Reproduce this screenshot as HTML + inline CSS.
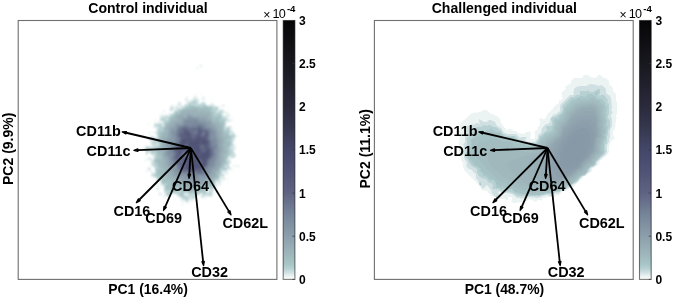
<!DOCTYPE html>
<html><head><meta charset="utf-8"><style>
html,body{margin:0;padding:0;background:#fff;width:675px;height:300px;overflow:hidden}
svg{display:block;will-change:transform}
text{font-family:'Liberation Sans',sans-serif;fill:#000}
</style></head><body>
<svg width="675" height="300" viewBox="0 0 675 300">
<defs><linearGradient id="cmap" x1="0" y1="1" x2="0" y2="0"><stop offset="0.0" stop-color="#ffffff"/><stop offset="0.01" stop-color="#eef5f5"/><stop offset="0.0267" stop-color="#d0e0e2"/><stop offset="0.04" stop-color="#b8d2d4"/><stop offset="0.0567" stop-color="#a8c6c8"/><stop offset="0.0833" stop-color="#a2bbbe"/><stop offset="0.1667" stop-color="#8c9eab"/><stop offset="0.25" stop-color="#768599"/><stop offset="0.3333" stop-color="#5f6383"/><stop offset="0.4167" stop-color="#505375"/><stop offset="0.5" stop-color="#45476a"/><stop offset="0.5833" stop-color="#36384f"/><stop offset="0.6667" stop-color="#2a2a3c"/><stop offset="0.8333" stop-color="#18181f"/><stop offset="1.0" stop-color="#060608"/></linearGradient>
<clipPath id="clipL"><rect x="19" y="21" width="257.5" height="257.5"/></clipPath>
<clipPath id="clipR"><rect x="375.3" y="21" width="257.5" height="257.5"/></clipPath>
<filter id="bl" x="-20%" y="-20%" width="140%" height="140%"><feGaussianBlur stdDeviation="0.85"/></filter>
</defs>
<g clip-path="url(#clipL)"><g filter="url(#bl)"><path fill="#e2eded" fill-rule="evenodd" d="M184 203 183 203 182 205 182 204zM166 200 166 201 167 201 167 200zM206 199h1v1h-1zM174 199h1v1h-1zM199 198h1v1h-1zM173 196h1v1h-1zM162 195 161 194 161 192 158 194 159 195zM216 191 216 193 220 192zM227 182 227 183 228 183 228 182zM232 171h1v1h-1zM239 165 238 166 239 166zM236 161h1v1h-1zM145 160h1v1h-1zM240 153h1v1h-1zM240 150h1v1h-1zM143 134h1v1h-1zM148 133h1v1h-1zM233 128h1v1h-1zM234 122h1v1h-1zM150 122 148 123 149 125 148 123zM155 120h1v1h-1zM165 109 163 112 164 112zM229 108 227 109 229 109zM157 107h1v1h-1zM208 100h1v1h-1zM212 98h1v1h-1zM170 96h1v1h-1zM224 104 219 107 217 107 215 105 213 105 212 104 213 101 210 105 207 105 206 104 206 102 204 102 203 101 205 98 204 96 202 99 203 102 199 104 198 103 199 102 199 99 196 97 196 95 195 95 192 100 190 100 189 102 187 98 188 97 186 97 185 101 186 101 187 103 185 104 183 107 181 106 182 105 181 104 181 102 179 102 174 108 172 104 170 107 170 111 172 110 174 112 173 113 169 113 167 116 166 114 165 114 166 115 165 116 161 114 159 122 154 124 154 127 152 128 156 128 157 129 155 132 151 132 150 133 152 132 154 133 155 132 157 136 156 137 154 137 153 136 149 137 148 138 149 140 151 141 150 142 151 146 150 147 146 146 145 148 144 147 143 147 143 148 144 148 146 151 146 155 147 155 149 152 151 154 151 157 150 158 147 158 147 159 148 160 149 159 150 160 151 164 149 165 151 165 152 166 147 169 148 170 146 171 149 170 151 172 151 176 154 178 153 179 155 178 157 180 157 182 156 183 157 186 156 188 158 190 160 189 160 188 157 189 156 188 157 186 161 185 164 188 164 192 165 194 163 197 164 198 163 200 166 196 170 197 170 195 171 194 176 194 178 197 182 199 180 202 181 201 185 201 188 204 190 199 191 201 193 202 192 200 193 199 196 199 196 196 200 194 202 195 201 196 203 199 205 197 207 197 208 196 209 197 212 197 213 196 213 194 212 193 214 191 214 189 216 188 219 184 221 184 223 180 228 179 230 177 226 179 224 176 226 174 228 174 229 172 228 173 227 172 228 170 231 169 231 168 234 166 236 167 236 165 234 165 233 167 230 168 229 167 229 164 231 163 231 159 236 157 236 155 234 152 234 150 235 149 236 151 236 147 235 146 235 144 233 143 235 140 234 139 236 137 239 137 239 136 237 137 234 134 234 132 231 130 230 125 227 127 225 126 226 125 226 123 228 121 230 122 232 121 230 120 232 119 229 120 227 118 228 116 231 117 228 112 225 112 223 109 221 109 220 110 218 109 220 107 224 106 225 105zM185 194 186 193 187 194 186 195zM207 191 208 190 209 191 208 192zM216 183 217 182 218 183 217 184zM220 182 221 181 222 182 221 183zM159 180 161 184 160 185 158 185 157 184zM220 179 221 178 222 179 221 180zM223 173 224 172 225 173 224 174zM153 166 155 170 155 172 154 173 151 171 151 168zM228 159 229 158 230 159 229 160zM229 157 230 156 231 158 230 159zM152 155 154 158 153 160 150 158zM155 145 156 144 157 145 156 146zM232 142 233 141 234 142 233 143zM162 125 163 124 164 125 163 126zM160 122 161 121 163 122 162 123zM223 115 224 113 227 113 228 114 224 116zM173 110 174 109 175 110 174 111zM179 108 180 107 181 108 180 109zM214 106 215 105 216 106 215 107zM178 106 179 105 180 106 179 107zM201 94h1v1h-1zM196 93h1v1h-1zM197 67 196 68 197 69 198 68zM200 65 200 67 202 67 202 65z"/>
<path fill="#cadcde" fill-rule="evenodd" d="M182 204h1v1h-1zM181 201h1v1h-1zM174 199h1v1h-1zM160 193 159 195 160 195zM216 191 216 192 218 192zM156 187 157 189 160 189 159 188 157 189zM158 185h1v1h-1zM156 184h1v1h-1zM224 178 223 178 223 179zM227 173h1v1h-1zM151 171h1v1h-1zM146 171h1v1h-1zM148 168 148 169 150 169 150 168zM238 166h1v1h-1zM235 165 234 166 235 166zM145 160h1v1h-1zM143 148h1v1h-1zM143 135h1v1h-1zM148 133h1v1h-1zM151 132 151 133 152 132 154 133 153 132zM148 124h1v1h-1zM155 120h1v1h-1zM231 119h1v1h-1zM225 112 226 113 228 113zM163 111h1v1h-1zM223 105h1v1h-1zM212 103h1v1h-1zM196 98 194 98 195 100 194 101 192 101 191 100 191 102 190 103 186 99 185 100 187 100 188 101 188 104 187 105 185 104 183 108 180 104 181 103 179 102 180 106 182 108 181 109 178 108 177 107 177 105 177 107 176 108 178 109 174 111 172 109 173 108 172 106 170 109 170 111 173 110 175 112 172 114 170 114 170 116 169 117 166 115 163 117 161 115 162 117 160 118 161 121 163 121 164 122 162 124 160 123 159 124 156 124 155 123 154 124 155 126 154 127 157 127 158 128 157 129 158 131 156 132 156 134 158 137 156 140 154 140 153 139 155 138 155 137 153 137 152 136 149 138 149 140 150 139 152 141 151 142 153 146 152 148 146 146 146 155 147 155 147 153 149 151 151 154 153 154 154 155 153 156 154 157 154 159 153 160 150 158 148 158 148 159 151 159 152 161 154 162 152 163 152 165 153 165 155 168 155 173 154 174 152 174 151 176 156 177 157 178 157 181 158 181 159 179 161 180 161 184 160 185 163 185 164 186 164 191 166 193 166 195 165 196 166 195 169 197 171 194 175 193 188 203 187 202 189 200 189 198 190 197 191 198 191 200 193 202 192 200 194 198 196 198 196 196 197 195 202 193 203 195 201 196 203 198 204 196 212 196 213 189 215 188 215 182 216 181 218 181 219 183 217 184 219 183 221 184 219 183 220 182 219 179 221 176 224 176 224 174 222 174 221 173 223 171 226 171 228 169 231 169 228 165 229 163 231 163 230 162 230 160 229 161 227 160 229 158 228 157 229 156 230 156 231 158 235 157 235 154 233 152 233 150 234 149 232 147 232 146 234 145 232 142 233 141 234 142 234 138 236 137 236 136 234 133 231 131 230 129 231 127 229 126 228 127 226 127 225 126 226 125 226 123 229 120 231 121 226 118 227 116 229 115 224 117 222 115 223 110 219 111 217 109 219 108 219 107 217 107 215 105 208 106 204 103 205 102 204 103 203 102 201 104 198 104 197 103 198 102 198 100 197 102 196 101zM205 194 206 193 207 195 206 196zM184 194 185 193 188 193 189 194 187 196zM208 193 209 192 210 193 209 194zM178 191 179 190 181 191 180 192zM206 191 206 189 207 188 211 190 208 192zM225 166 226 165 227 167 226 168zM152 148 153 147 154 148 153 149zM155 145 156 144 157 145 156 146zM157 144 158 143 160 144 159 145zM230 134 231 132 233 133 231 135zM157 127 158 126 159 127 158 128zM162 125 164 124 165 126 164 127zM225 121 226 120 227 122 226 123zM166 119 167 118 168 119 167 120zM163 118 164 117 165 118 164 119zM216 112 217 111 219 112 218 113zM214 106 215 105 216 106 215 107zM196 105 197 104 198 105 197 106zM204 97 203 98 203 100 204 99zM187 97h1v1h-1zM197 68h1v1h-1zM201 65 200 66 201 67 202 66z"/>
<path fill="#b5d0d2" fill-rule="evenodd" d="M182 204h1v1h-1zM201 196h1v1h-1zM188 195h1v1h-1zM160 194h1v1h-1zM216 192h1v1h-1zM157 189h1v1h-1zM156 187h1v1h-1zM220 184h1v1h-1zM148 169h1v1h-1zM231 168h1v1h-1zM238 166h1v1h-1zM145 160h1v1h-1zM148 159 151 159 150 158zM232 157h1v1h-1zM154 138 153 137 152 139 150 138 149 139 152 140 152 139zM152 132 151 132 151 133zM231 127h1v1h-1zM154 125h1v1h-1zM228 120h1v1h-1zM231 119h1v1h-1zM227 117h1v1h-1zM225 112h1v1h-1zM163 111h1v1h-1zM170 109 170 111 172 110 172 109zM172 107h1v1h-1zM212 103h1v1h-1zM179 102 180 103 180 102zM198 100h1v1h-1zM196 99 190 103 189 103 188 101 189 103 188 105 186 105 184 108 181 106 181 107 183 108 181 110 178 108 178 110 177 111 174 111 175 113 174 114 172 114 170 117 166 116 164 119 163 117 162 117 163 118 162 119 160 119 161 121 164 121 165 122 163 123 165 126 164 127 162 126 161 124 157 124 156 125 156 127 157 127 158 125 159 126 159 128 157 129 157 130 159 131 157 133 159 137 157 139 157 141 156 142 154 142 153 144 152 144 151 142 152 144 157 144 158 142 160 145 159 146 155 146 154 148 153 147 151 148 146 146 146 154 147 155 147 153 150 150 151 151 151 154 153 154 154 153 156 154 156 156 155 157 154 156 155 157 155 159 153 161 155 162 152 164 152 165 154 165 156 168 155 170 156 172 154 175 153 174 152 174 152 175 156 177 158 180 160 179 162 183 161 184 164 184 165 185 164 189 166 192 166 194 168 196 169 196 171 193 177 193 178 195 181 196 182 198 186 199 187 200 186 201 189 199 183 194 186 192 189 193 190 194 190 196 192 193 195 195 192 199 194 197 195 198 196 197 195 196 196 195 198 195 202 192 204 195 203 196 205 195 206 196 205 195 206 193 205 190 207 188 210 188 212 190 209 192 211 193 210 194 208 194 208 195 212 195 211 193 212 192 211 191 214 187 213 186 215 184 215 181 216 180 219 181 218 180 220 178 219 176 220 175 222 175 223 176 224 175 222 175 221 174 221 172 223 170 226 170 229 166 228 164 230 163 227 161 228 157 230 156 232 152 234 153 235 157 235 155 233 151 230 149 231 148 233 149 233 148 231 148 230 147 232 145 231 142 233 140 234 141 231 139 235 137 235 136 233 133 229 130 229 127 227 128 225 128 224 127 226 124 225 122 226 119 225 119 221 115 223 110 220 111 219 113 216 113 215 112 218 110 217 109 219 107 217 107 216 106 215 108 213 106 210 106 209 107 208 106 206 106 203 102 201 104 198 104 197 103 198 102 196 101zM196 192 198 191 199 193 198 194zM167 192 168 191 169 192 168 193zM168 191 169 190 170 191 169 192zM177 190 178 189 180 189 181 190 181 192 180 193zM183 187 184 186 185 187 184 188zM221 170 222 169 223 170 222 171zM224 166 226 165 228 167 227 168 225 168zM150 150 151 149 152 150 151 151zM229 148 230 147 231 148 230 149zM152 148 153 147 154 148 153 149zM229 133 230 132 232 132 233 134 231 136zM224 129 226 128 227 130 225 131zM162 127 163 126 164 127 163 128zM220 121 221 120 222 121 221 122zM169 118 168 120 165 120 164 119 168 117zM177 111 178 110 179 111 178 112zM213 108 214 107 215 108 214 109zM201 106 202 105 203 106 202 107zM197 103 198 105 196 106 195 105zM193 104 194 103 195 104 194 105zM191 104 192 103 193 104 192 105z"/>
<path fill="#a8c6c8" fill-rule="evenodd" d="M185 198 188 200 188 199zM211 194h1v1h-1zM222 175h1v1h-1zM228 166h1v1h-1zM155 166h1v1h-1zM153 164h1v1h-1zM234 154h1v1h-1zM211 106 210 107 208 107 204 105 202 108 201 107 197 107 196 106 190 105 184 109 179 110 178 112 175 112 173 117 172 115 169 118 170 119 167 123 164 123 164 124 166 125 163 128 163 131 162 132 161 131 159 131 159 137 158 138 158 140 160 145 157 148 157 150 155 152 151 153 151 154 155 152 157 154 156 158 154 161 157 163 157 165 159 168 156 170 157 172 156 173 156 176 158 177 158 179 161 178 162 179 161 181 162 183 166 185 165 188 167 189 166 190 166 192 167 193 167 195 169 196 171 193 177 192 177 191 175 190 176 188 181 190 181 192 179 194 180 196 184 196 182 193 183 192 188 192 190 195 192 192 195 194 199 194 200 192 202 191 204 194 206 192 205 191 205 189 207 187 208 188 210 187 212 188 213 187 213 185 215 183 215 180 216 179 218 179 220 177 219 175 221 172 221 170 222 169 223 170 224 169 226 170 226 168 224 167 224 165 226 164 227 162 226 160 228 159 228 156 229 154 231 153 229 152 229 147 232 145 231 140 230 139 232 138 232 136 230 136 229 135 229 128 227 128 227 130 226 131 224 130 224 124 225 123 224 122 225 120 224 119 222 120 221 119 222 116 220 115 220 113 219 114 214 113 211 110 212 109 212 107zM193 192 195 191 196 193 195 194zM196 191 197 190 199 193 198 194zM170 190 171 191 168 194 166 192 168 190zM195 188 196 187 197 188 196 189zM183 187 184 186 186 187 185 188zM165 183 166 182 168 184 166 185zM163 178 164 177 165 178 164 179zM220 169 221 168 222 169 221 170zM156 158 157 157 158 158 157 159zM220 120 221 119 222 121 221 122zM213 115 214 114 217 114 218 115 217 116 214 116z"/>
<path fill="#a5c0c2" fill-rule="evenodd" d="M188 199h1v1h-1zM176 192h1v1h-1zM151 153h1v1h-1zM223 120h1v1h-1zM211 107 209 108 206 106 204 106 201 108 200 107 190 106 190 108 189 109 188 107 187 107 185 109 181 110 178 113 176 112 175 115 173 117 171 116 171 118 168 123 164 123 166 126 163 129 163 131 162 132 160 131 159 132 160 135 158 139 160 141 160 148 157 150 157 157 159 158 158 159 156 159 155 161 158 163 158 166 160 167 161 169 160 170 159 169 156 170 158 172 157 173 157 175 159 174 161 176 158 179 160 177 162 179 163 184 166 182 168 183 166 187 167 188 167 190 169 189 171 190 170 193 174 192 174 189 177 187 179 187 182 191 180 194 181 196 183 196 182 194 182 192 183 191 189 192 190 194 195 190 195 187 196 186 198 188 197 190 199 191 199 193 200 193 201 191 203 191 204 193 205 192 204 190 208 186 212 187 212 185 214 184 214 181 216 179 219 178 217 175 220 173 220 169 222 167 226 169 223 167 223 165 226 163 226 161 225 160 226 158 225 157 227 156 227 154 229 150 228 147 230 146 230 143 231 142 230 139 232 137 228 135 227 133 228 132 228 130 228 132 227 133 223 131 223 129 224 128 224 123 219 121 220 118 222 117 220 117 219 116 220 114 219 114 217 117 214 117 212 114 213 113 215 114 215 113 212 113 210 110 211 109zM199 188 200 187 202 188 201 189zM185 185 186 187 184 189 183 187zM169 187 169 185 170 184 172 186 170 188zM167 181 168 180 169 181 168 182zM162 177 164 176 166 179 165 180 163 179zM160 155 161 156 161 158 160 159 158 157zM226 140 227 139 229 139 230 140 229 141 227 141zM223 135 224 134 225 135 224 136z"/>
<path fill="#a0b9bc" fill-rule="evenodd" d="M181 193 181 195 182 196 182 193zM204 192h1v1h-1zM198 189 198 190 201 190 200 189zM167 185 167 187 168 189 169 189 168 187 169 185zM165 123h1v1h-1zM218 117 219 118 219 117zM210 108 204 107 204 108 202 109 198 107 197 108 195 107 191 107 189 109 183 109 180 112 180 114 179 115 178 115 176 112 175 116 173 118 171 118 170 119 170 121 163 129 166 131 165 132 163 132 159 138 161 143 160 145 161 149 157 151 159 153 157 156 161 155 162 157 160 160 159 159 158 160 156 159 155 161 158 163 159 167 161 167 162 168 161 170 157 170 159 170 160 171 162 170 163 171 161 173 157 173 157 174 161 174 166 177 166 180 165 181 163 179 162 181 164 183 165 183 168 179 172 181 171 182 171 184 172 185 172 188 171 189 172 191 170 193 174 191 174 189 178 186 182 190 182 191 184 191 185 190 188 192 192 192 194 190 194 187 196 185 197 186 198 185 199 187 201 187 203 189 205 189 204 187 205 186 206 187 207 186 205 185 207 180 208 181 208 184 210 184 211 186 212 186 211 185 214 183 214 179 219 177 217 176 217 174 219 173 218 172 220 170 220 167 222 166 222 164 223 163 225 163 225 156 227 155 227 152 229 149 227 147 230 145 229 144 230 142 227 142 226 141 226 139 230 137 229 137 227 134 224 136 223 135 225 132 224 133 223 132 223 127 224 125 222 122 221 123 219 120 216 118 215 118 215 120 216 121 215 122 213 121 212 119 212 113 209 110zM184 185 186 186 186 188 185 189 183 189 182 188zM164 174 165 173 166 174 165 175zM223 155 224 154 225 155 224 156zM160 154 161 153 162 154 161 155zM225 149 226 148 227 150 226 151zM224 145 225 144 226 146 225 147zM205 110 206 109 208 110 207 111zM198 109 199 108 201 109 200 110z"/>
<path fill="#9bb1b8" fill-rule="evenodd" d="M226 145h1v1h-1zM196 109 194 109 193 110 188 110 187 111 183 110 182 111 183 112 181 113 180 115 176 115 173 120 167 125 165 129 168 131 164 133 163 136 161 138 161 144 162 145 161 147 162 148 162 151 161 152 162 153 163 167 167 171 167 173 170 179 174 181 175 183 176 182 177 183 177 186 179 186 181 188 182 188 181 187 183 185 185 185 187 188 187 191 193 190 194 189 194 185 195 184 196 185 199 185 203 188 205 185 204 183 206 180 208 181 208 183 214 183 213 182 213 179 214 178 217 178 216 172 219 170 219 168 222 164 224 163 223 161 225 158 222 154 223 153 226 154 227 152 224 150 225 147 223 145 225 141 225 138 223 136 223 130 221 128 221 126 217 122 214 123 212 121 212 119 210 116 211 115 209 112 204 112 201 110 201 111 198 113 197 112 198 110zM180 182 181 181 182 182 181 183zM209 180 210 179 212 180 211 181zM162 159 163 158 164 160 163 161zM219 126 220 125 221 126 220 127zM174 120 175 118 177 118 178 119 176 121zM208 116 209 115 210 116 209 117zM184 116 185 115 186 116 185 117zM195 115 196 114 197 115 196 116z"/>
<path fill="#94a9b2" fill-rule="evenodd" d="M209 181h1v1h-1zM187 113 185 114 187 116 186 117 184 117 182 114 181 114 180 116 177 117 178 118 178 120 177 121 175 121 173 124 168 128 169 130 168 132 168 136 165 138 164 140 164 152 163 153 163 155 165 158 166 164 169 168 169 171 171 174 171 176 175 178 179 182 180 181 182 181 183 182 181 184 185 184 187 187 190 187 191 186 193 187 195 183 199 185 204 185 204 183 206 179 209 179 215 176 215 172 218 170 221 166 221 160 220 158 221 157 222 158 222 155 221 154 223 151 223 147 222 146 223 139 220 136 220 132 218 130 216 125 212 122 212 120 211 119 209 120 208 119 208 117 206 115 204 116 202 116 201 115 199 116 197 113 195 113 193 114 192 116 189 113 188 114zM194 114 196 113 197 114 197 116 195 117 194 116z"/>
<path fill="#8ea1ad" fill-rule="evenodd" d="M189 114 187 115 187 117 186 118 184 118 183 116 182 122 181 123 178 123 177 122 178 121 175 125 170 129 170 131 169 132 170 136 167 139 167 141 166 142 165 155 168 159 168 164 171 170 173 172 173 174 177 178 179 179 180 178 182 181 186 183 190 182 193 184 195 183 200 184 205 181 207 178 209 178 209 176 213 173 213 170 216 168 219 164 219 162 218 161 220 158 220 151 221 150 219 145 221 141 218 137 217 130 214 126 211 124 212 123 210 121 206 120 204 118 200 118 198 116 196 117 191 116z"/>
<path fill="#889aa8" fill-rule="evenodd" d="M190 116 187 118 185 118 183 120 183 123 180 125 179 124 177 124 175 129 171 129 171 135 172 137 168 141 168 145 169 147 167 149 166 155 169 157 170 165 173 168 173 170 177 176 179 177 183 176 185 178 184 180 191 180 193 182 196 182 197 181 198 183 199 182 199 180 201 178 202 179 205 179 211 172 211 170 215 167 216 162 218 159 218 154 219 153 219 147 218 146 218 142 219 141 216 136 216 131 210 126 210 123 209 122 206 122 204 120 200 121 198 118 195 118z"/>
<path fill="#8292a3" fill-rule="evenodd" d="M190 117 187 120 184 120 184 123 182 125 178 125 177 126 177 129 175 132 172 130 172 133 175 139 173 142 170 142 171 146 169 148 167 152 167 154 170 156 170 159 172 162 172 165 174 165 176 167 175 170 179 173 179 175 180 176 185 175 187 178 189 178 190 177 192 178 194 181 197 181 198 177 200 175 205 177 210 171 210 169 214 166 215 161 217 157 218 145 217 144 217 139 215 136 215 132 211 128 208 127 206 125 205 122 199 122 196 118 194 118 193 119z"/>
<path fill="#7c8c9e" fill-rule="evenodd" d="M190 119 187 121 185 121 185 124 182 126 178 126 177 131 175 134 175 136 176 137 175 143 171 147 168 153 169 154 171 153 173 154 171 157 171 159 173 161 173 163 177 166 177 170 180 172 180 174 187 174 189 176 193 177 194 179 196 179 198 175 206 175 209 167 210 166 213 166 214 161 215 160 215 157 216 156 215 151 217 149 217 144 215 142 216 141 215 139 213 140 211 139 212 131 210 129 207 128 203 123 202 124 201 123 199 123 196 119 195 119 193 122 192 122zM187 124 188 123 190 124 189 125z"/>
<path fill="#768499" fill-rule="evenodd" d="M196 121 195 123 190 127 187 125 185 125 178 128 177 130 177 134 176 135 178 139 176 140 176 144 172 147 170 152 171 151 174 154 172 157 172 159 174 161 175 164 178 166 178 169 182 173 187 173 189 175 193 174 194 175 194 177 196 177 198 174 203 175 206 173 205 171 208 166 210 165 210 161 211 160 213 160 213 157 215 155 214 149 216 147 216 145 214 146 212 145 212 143 213 142 210 139 210 133 211 131 209 129 205 128 201 124 197 124 196 123zM183 155 184 153 186 154 184 156zM194 125 195 123 197 124 195 126z"/>
<path fill="#6f7b92" fill-rule="evenodd" d="M201 125 198 125 196 127 191 127 190 128 187 126 185 126 184 127 179 128 178 130 177 136 179 138 179 141 172 149 175 154 173 157 173 159 175 161 176 164 178 165 179 169 183 173 187 172 189 174 191 174 194 172 197 174 204 174 205 173 204 172 204 170 209 164 209 161 212 159 212 157 214 155 213 147 211 146 211 142 209 138 209 133 210 131 207 129 205 129zM185 152 187 154 185 156 183 156 182 155z"/>
<path fill="#69718c" fill-rule="evenodd" d="M199 125 197 128 188 128 187 127 183 127 179 130 178 136 180 138 180 141 173 149 173 150 175 152 175 156 174 158 176 160 176 163 179 165 179 167 183 172 187 171 189 173 191 173 196 171 198 173 203 173 203 171 202 170 207 166 208 161 213 155 212 148 210 147 210 141 208 138 209 136 209 132 207 130 203 129zM186 152 188 154 186 156 183 157 182 156 182 154 184 152zM192 150 193 152 190 154 189 153zM202 135 202 133 203 132 205 134 203 136zM196 130 197 131 197 133 195 134 194 132z"/>
<path fill="#626886" fill-rule="evenodd" d="M195 129 194 128 193 130 195 130zM199 127 197 129 198 133 196 135 192 134 190 131 186 128 183 128 182 129 183 130 183 132 179 134 179 136 181 138 180 139 180 142 174 150 176 152 175 158 177 160 177 163 180 165 183 171 187 170 189 172 192 172 197 170 199 173 202 173 201 170 207 165 208 160 212 155 211 149 209 147 210 143 209 142 209 140 207 138 208 137 208 132 207 131 204 131zM192 149 193 150 193 153 191 155 188 155 182 158 182 161 180 163 177 161 177 160 180 158 183 152 185 151 186 152 189 152 190 150zM200 146 202 145 203 147 201 148zM184 146 185 145 187 146 186 147zM204 131 205 132 205 135 204 136 202 136 201 134z"/>
<path fill="#5d6181" fill-rule="evenodd" d="M184 129 184 132 182 134 180 134 180 136 182 137 180 142 180 145 178 147 175 148 178 153 176 156 176 158 178 158 181 155 183 151 188 152 190 149 192 148 194 151 194 153 190 156 185 157 182 160 182 162 183 163 182 164 182 168 183 170 188 170 189 171 194 171 198 169 199 170 199 172 201 172 200 170 203 167 205 167 207 164 207 160 211 155 211 150 208 147 209 142 206 138 208 136 208 133 206 132 205 136 204 137 202 137 200 134 202 132 202 130 198 129 198 134 196 135 196 137 193 139 191 137 192 135 187 130zM199 161 200 160 202 162 200 163zM200 146 201 145 203 145 206 151 205 152 203 152zM184 145 186 144 188 147 187 148 185 148 184 147z"/>
<path fill="#595c7d" fill-rule="evenodd" d="M181 135h1v1h-1zM199 130 199 134 195 139 192 139 191 138 190 133 188 131 185 131 184 132 185 138 181 140 181 142 180 143 181 146 179 148 176 148 179 153 179 155 178 156 181 154 183 150 189 151 189 149 191 147 194 150 194 153 190 157 186 157 183 160 183 161 185 161 186 162 186 166 185 168 191 171 204 167 207 163 206 160 209 158 210 156 210 150 207 146 208 145 208 141 205 138 207 136 207 134 206 134 206 136 203 138 200 135 201 131zM198 160 200 159 203 163 201 165 198 162zM190 157 191 156 192 157 191 158zM199 145 200 144 204 145 205 146 206 151 205 152 202 152 201 151 201 149 199 147zM184 145 185 144 187 144 188 145 188 147 186 149 184 147z"/>
<path fill="#555879" fill-rule="evenodd" d="M178 148 177 149 179 150 179 153 180 154 181 152zM207 135h1v1h-1zM199 132h1v1h-1zM186 131 185 133 188 135 189 137 184 140 182 140 181 142 181 148 187 151 189 150 189 148 190 147 192 147 194 149 195 153 192 156 193 157 193 159 192 160 188 157 186 157 185 158 185 160 187 162 186 168 190 170 194 170 196 168 200 168 206 164 206 160 209 157 209 150 207 147 206 147 207 151 205 153 202 153 200 151 199 145 201 143 202 144 207 144 208 142 205 139 201 138 200 136 199 136 194 141 189 137 190 136 190 134zM199 159 201 159 203 161 203 164 201 166 197 161zM198 155 199 154 201 155 200 156zM185 143 187 143 189 146 187 149 184 149 183 148 183 145zM187 143 187 141 188 140 190 142 188 144z"/>
<path fill="#505375" fill-rule="evenodd" d="M188 150h1v1h-1zM186 140 183 140 181 143 182 147 186 142zM202 140 202 143 203 144 207 143 204 139zM199 138 196 139 196 141 194 143 190 139 188 139 190 141 189 146 190 147 192 146 195 149 195 154 193 155 194 160 192 161 189 158 186 158 186 160 188 163 187 164 187 168 191 170 193 170 196 168 200 167 197 163 197 160 199 158 201 158 203 160 204 165 205 164 205 160 209 156 209 151 208 150 205 153 202 153 200 157 198 157 197 156 197 154 200 152 200 149 198 147 198 145 199 144zM187 132 187 134 189 134z"/>
<path fill="#4f5274" fill-rule="evenodd" d="M186 159 188 162 188 166 187 167 188 168 194 169 196 167 199 167 197 164 195 164 187 158zM208 152 203 153 201 158 204 160 208 156zM185 141 183 141 182 142 182 145zM203 140 203 143 206 143 206 141 205 140zM198 139 197 139 197 141 195 143 191 142 189 145 190 146 193 146 195 148 196 154 194 155 194 157 196 160 197 160 196 154 199 152 199 149 198 148 199 140z"/></g></g>
<rect x="18.2" y="20.5" width="258.7" height="258.9" fill="none" stroke="#6f6f6f" stroke-width="1.1"/>
<text x="148.0" y="12.7" text-anchor="middle" font-size="14.05" font-weight="bold">Control individual</text>
<text x="148.1" y="294.1" text-anchor="middle" font-size="13.9" font-weight="bold">PC1 (16.4%)</text>
<text transform="translate(13.2,148.8) rotate(-90)" text-anchor="middle" font-size="14" font-weight="bold">PC2 (9.9%)</text>
<rect x="283.2" y="20.5" width="11.7" height="258.9" fill="url(#cmap)" stroke="#000" stroke-opacity="0.52" stroke-width="1.1"/>
<line x1="292.5" x2="294.5" y1="279.4" y2="279.4" stroke="#333" stroke-width="0.8"/>
<text x="299.1" y="283.9" font-size="12" font-weight="bold">0</text>
<line x1="292.5" x2="294.5" y1="236.2" y2="236.2" stroke="#333" stroke-width="0.8"/>
<text x="299.1" y="240.7" font-size="12" font-weight="bold">0.5</text>
<line x1="292.5" x2="294.5" y1="193.1" y2="193.1" stroke="#333" stroke-width="0.8"/>
<text x="299.1" y="197.6" font-size="12" font-weight="bold">1</text>
<line x1="292.5" x2="294.5" y1="149.9" y2="149.9" stroke="#333" stroke-width="0.8"/>
<text x="299.1" y="154.4" font-size="12" font-weight="bold">1.5</text>
<line x1="292.5" x2="294.5" y1="106.8" y2="106.8" stroke="#333" stroke-width="0.8"/>
<text x="299.1" y="111.3" font-size="12" font-weight="bold">2</text>
<line x1="292.5" x2="294.5" y1="63.6" y2="63.6" stroke="#333" stroke-width="0.8"/>
<text x="299.1" y="68.1" font-size="12" font-weight="bold">2.5</text>
<line x1="292.5" x2="294.5" y1="20.5" y2="20.5" stroke="#333" stroke-width="0.8"/>
<text x="299.1" y="25.0" font-size="12" font-weight="bold">3</text>
<text x="263.2" y="19.0" font-size="12.3">×</text>
<text x="272.4" y="17.6" font-size="12.6" letter-spacing="-0.7">10</text>
<text x="286.9" y="11.8" font-size="9.6" font-weight="bold">-4</text>
<g transform="translate(0,0)"><line x1="190.9" y1="148.0" x2="126.18" y2="132.75" stroke="#000" stroke-width="1.8"/><path d="M122.28,131.84 L126.45,131.59 L125.90,133.92Z" fill="#000" stroke="#000" stroke-width="1.3" stroke-linejoin="round"/><line x1="190.9" y1="148.0" x2="137.90" y2="150.12" stroke="#000" stroke-width="1.8"/><path d="M133.90,150.28 L137.85,148.92 L137.94,151.32Z" fill="#000" stroke="#000" stroke-width="1.3" stroke-linejoin="round"/><line x1="190.9" y1="148.0" x2="189.28" y2="174.41" stroke="#000" stroke-width="1.8"/><path d="M189.04,178.40 L188.08,174.34 L190.48,174.48Z" fill="#000" stroke="#000" stroke-width="1.3" stroke-linejoin="round"/><line x1="190.9" y1="148.0" x2="139.25" y2="199.74" stroke="#000" stroke-width="1.8"/><path d="M136.42,202.58 L138.40,198.90 L140.10,200.59Z" fill="#000" stroke="#000" stroke-width="1.3" stroke-linejoin="round"/><line x1="190.9" y1="148.0" x2="165.15" y2="206.79" stroke="#000" stroke-width="1.8"/><path d="M163.54,210.45 L164.05,206.31 L166.25,207.27Z" fill="#000" stroke="#000" stroke-width="1.3" stroke-linejoin="round"/><line x1="190.9" y1="148.0" x2="228.93" y2="211.36" stroke="#000" stroke-width="1.8"/><path d="M230.99,214.79 L227.90,211.97 L229.96,210.74Z" fill="#000" stroke="#000" stroke-width="1.3" stroke-linejoin="round"/><line x1="190.9" y1="148.0" x2="203.11" y2="261.63" stroke="#000" stroke-width="1.8"/><path d="M203.54,265.60 L201.92,261.75 L204.30,261.50Z" fill="#000" stroke="#000" stroke-width="1.3" stroke-linejoin="round"/><text x="76.1" y="135.6" font-size="14.4" font-weight="bold">CD11b</text><text x="86.6" y="156.4" font-size="14.4" font-weight="bold">CD11c</text><text x="172.1" y="190.6" font-size="14.4" font-weight="bold">CD64</text><text x="113.5" y="216.2" font-size="14.4" font-weight="bold">CD16</text><text x="145.29999999999998" y="222.79999999999998" font-size="14.4" font-weight="bold">CD69</text><text x="222.4" y="227.6" font-size="14.4" font-weight="bold">CD62L</text><text x="191.2" y="277.40000000000003" font-size="14.4" font-weight="bold">CD32</text></g>
<g clip-path="url(#clipR)"><g><path fill="#ebf3f3" fill-rule="evenodd" d="M609 81 606 78 604 78 600 75 598 75 598 76 595 78 590 77 588 75 584 75 582 78 574 78 571 81 571 83 565 87 566 88 565 90 562 92 562 97 563 98 561 100 559 100 559 103 556 105 550 112 548 113 545 119 542 119 541 118 539 119 540 121 540 125 538 127 538 129 534 132 535 134 535 138 534 139 531 139 530 138 531 133 529 131 528 132 526 132 524 134 518 133 516 131 514 131 510 129 508 129 507 131 506 130 506 128 505 128 501 123 500 119 497 116 496 117 495 115 491 114 487 110 483 110 480 112 472 113 462 122 460 125 460 130 459 131 459 133 460 134 460 137 459 138 460 140 459 142 459 145 460 146 459 147 459 152 461 156 461 160 463 163 463 167 465 171 478 184 482 190 487 191 491 196 496 197 500 199 505 199 506 200 508 200 508 198 509 197 511 197 512 198 512 200 511 201 513 203 524 202 525 201 527 201 529 199 536 202 538 200 540 200 541 201 543 198 546 198 547 197 554 197 557 195 559 195 563 191 566 191 570 188 573 187 578 182 579 182 579 181 582 179 584 176 588 173 590 173 592 171 592 169 598 165 600 161 607 155 609 152 609 146 610 145 610 143 613 139 615 139 613 135 613 131 615 129 616 119 617 118 616 117 616 115 617 114 617 102 616 101 616 94 613 91 613 88 609 84z"/>
<path fill="#d0e0e2" fill-rule="evenodd" d="M611 95 610 96 606 93 606 89 602 85 598 86 597 85 590 84 586 86 579 86 578 87 576 87 574 89 574 91 573 92 574 94 573 95 570 95 561 104 560 106 560 111 556 114 553 115 550 119 550 122 548 124 546 124 542 128 541 133 538 135 538 138 535 142 528 142 525 140 527 137 521 137 520 138 516 134 507 134 506 133 504 133 501 128 497 126 495 122 491 120 489 120 487 122 484 122 479 119 479 122 478 123 476 123 474 125 472 124 470 126 466 126 467 132 465 136 465 142 463 145 464 146 463 154 464 155 464 158 467 163 466 166 469 169 472 170 473 172 476 174 476 179 478 180 479 185 481 186 483 189 487 185 492 191 491 192 494 196 497 198 499 196 499 194 498 193 499 191 502 193 509 193 510 194 512 194 517 198 520 198 521 199 523 198 527 198 528 197 538 198 546 195 551 196 556 193 558 194 561 191 567 189 576 183 583 176 585 176 590 171 591 168 595 166 597 164 597 162 606 154 607 152 607 145 609 142 609 139 610 138 610 130 612 126 612 118 611 117 611 115 613 112 611 110 612 108 611 98 610 97zM478 123 479 122 480 123 479 124z"/>
<path fill="#b7d1d3" fill-rule="evenodd" d="M496 196 496 197 497 197 497 196zM480 182 479 184 481 185 481 182zM608 100 604 95 601 95 600 96 599 95 600 93 600 89 598 89 593 92 590 92 588 90 587 91 580 91 580 94 579 95 576 95 574 97 571 97 563 105 562 107 563 109 561 113 555 117 553 117 551 119 552 121 552 125 551 126 547 126 546 127 547 130 539 137 539 139 536 143 525 143 522 140 519 140 515 136 507 136 503 134 501 131 496 127 494 127 490 125 488 125 487 126 484 125 481 127 477 127 475 129 472 129 469 132 469 133 471 134 466 139 467 140 467 147 468 149 465 154 465 156 468 160 469 163 473 167 477 169 477 173 479 176 482 178 486 179 489 183 491 183 493 185 493 187 492 188 493 189 498 189 501 191 510 192 515 194 517 196 521 196 522 197 523 196 540 196 541 195 545 195 546 194 553 194 555 192 559 192 570 186 571 184 575 183 578 181 580 177 583 175 585 175 585 174 588 172 589 169 591 167 594 166 596 164 596 162 602 156 603 156 606 151 605 149 605 145 607 143 607 136 608 135 608 131 610 127 610 121 608 118 608 115 609 114 609 104 607 102z"/>
<path fill="#a9c7c9" fill-rule="evenodd" d="M496 197h1v1h-1zM480 184h1v1h-1zM607 107 605 105 605 103 602 99 599 99 596 97 596 95 598 93 598 91 595 93 595 95 594 96 592 94 588 94 585 97 581 96 575 99 572 99 564 108 563 113 559 116 559 118 558 119 556 118 554 120 554 125 552 128 553 129 551 131 544 134 544 135 540 138 539 142 537 144 535 144 534 145 529 145 528 144 526 145 522 142 518 143 513 136 512 137 505 137 502 135 500 132 496 132 490 128 490 130 489 131 487 130 482 134 481 133 478 133 470 140 471 146 470 147 470 151 467 154 468 155 468 158 474 166 476 166 480 169 479 172 481 172 483 174 483 176 486 176 490 181 491 180 494 180 496 183 496 187 497 188 500 188 501 189 505 188 507 191 510 189 512 189 515 193 517 193 518 194 523 194 524 195 540 195 545 193 552 193 554 191 559 191 565 188 567 186 572 184 581 176 584 175 587 172 588 169 591 166 593 166 595 164 595 162 604 152 604 142 605 141 604 140 606 139 606 136 605 135 607 132 607 129 608 128 606 124 607 123 607 120 606 119 606 116 607 115 606 113z"/>
<path fill="#a5c1c3" fill-rule="evenodd" d="M496 197h1v1h-1zM480 184h1v1h-1zM604 104 603 105 600 102 600 100 597 100 593 97 588 99 580 99 579 98 577 99 576 101 573 101 568 107 565 108 565 111 562 116 560 117 560 119 559 120 556 120 555 126 553 128 554 129 554 131 548 135 547 134 545 137 540 141 539 144 537 146 536 145 528 146 523 143 517 144 513 138 504 137 499 133 494 133 493 132 491 132 486 135 481 135 480 136 478 136 472 140 472 147 471 148 471 151 469 153 470 155 470 159 475 162 474 164 481 168 481 171 485 174 487 174 491 179 493 179 495 181 496 184 498 184 500 187 501 186 504 186 508 189 512 189 515 192 518 192 523 194 527 193 532 195 544 194 545 193 549 193 553 191 559 191 565 188 567 186 572 184 581 176 584 175 587 172 588 169 591 166 593 166 595 164 595 162 604 152 602 150 602 146 603 145 603 142 605 139 605 135 606 134 606 128 605 127 606 120 605 119 605 115 604 114 604 110 605 109z"/>
<path fill="#a3bcbf" fill-rule="evenodd" d="M603 106 599 103 599 101 596 101 593 99 588 101 580 101 577 103 575 103 567 110 564 116 561 120 558 122 555 128 555 132 546 138 545 140 542 142 541 145 538 148 536 148 535 147 531 149 527 149 523 147 518 147 517 148 516 147 514 147 510 142 503 142 498 139 494 139 492 138 487 141 480 142 478 144 478 147 475 155 485 166 485 168 487 170 490 171 491 173 500 181 504 182 509 185 512 185 517 189 520 189 524 191 525 190 527 190 533 193 535 193 536 192 548 192 552 190 558 190 564 187 566 185 568 185 572 183 581 175 584 174 586 172 587 169 594 163 594 161 597 157 601 154 602 152 601 151 601 145 602 144 602 141 604 138 604 134 605 133 605 129 604 128 604 122 605 121 604 120 604 116 603 115z"/>
<path fill="#a0b8bc" fill-rule="evenodd" d="M601 108 597 104 597 103 595 103 593 101 591 102 587 102 586 103 580 103 576 105 568 112 563 121 559 124 559 126 557 129 557 132 553 136 548 139 539 150 534 150 531 152 524 152 523 151 515 152 510 150 508 148 493 149 488 152 488 161 490 164 490 166 491 166 504 178 507 178 511 181 516 182 521 186 528 187 534 190 547 190 552 188 559 188 571 182 580 174 583 173 585 171 586 168 590 164 592 164 593 163 593 161 596 158 597 155 600 153 600 145 601 144 601 141 602 140 603 133 604 132 604 130 603 129 603 120 602 119 602 115 601 114z"/>
<path fill="#9db5ba" fill-rule="evenodd" d="M600 109 593 103 591 103 590 104 582 104 579 106 577 106 570 112 564 122 560 125 560 127 558 129 558 133 554 137 548 141 544 147 539 152 537 153 533 153 529 155 525 155 517 159 515 159 508 162 507 163 508 168 525 184 527 184 532 187 535 187 536 188 550 188 551 187 558 187 570 181 581 173 585 169 585 168 592 162 592 160 595 156 599 153 599 144 600 143 600 140 602 137 602 127 601 126 602 121 601 120 601 116 600 115z"/>
<path fill="#9bb1b8" fill-rule="evenodd" d="M595 106 593 105 587 105 586 106 581 106 580 107 578 107 571 113 570 116 561 126 558 135 550 142 549 142 545 148 539 154 535 155 531 159 527 166 527 173 530 180 534 185 540 186 541 187 542 186 545 186 546 187 547 186 557 186 558 185 560 185 573 178 579 172 582 171 584 167 589 162 591 162 591 160 594 157 596 153 598 152 597 150 598 149 598 144 601 136 601 128 600 127 600 122 601 121 600 120 598 109z"/>
<path fill="#98aeb5" fill-rule="evenodd" d="M594 107 592 106 590 106 589 107 582 107 576 110 576 111 572 114 566 123 562 127 560 134 547 146 546 149 539 156 535 164 534 172 538 182 541 185 550 185 551 184 556 185 557 184 562 183 564 181 568 180 570 178 573 177 579 171 582 170 584 166 589 161 590 161 591 158 597 151 597 144 598 143 598 139 600 136 600 128 599 127 599 118 597 114 597 110z"/>
<path fill="#95aab3" fill-rule="evenodd" d="M593 108 583 108 577 111 572 116 566 125 563 127 561 134 559 137 555 140 546 150 540 165 540 174 543 181 545 183 547 183 548 184 549 183 559 183 571 177 583 167 583 166 590 159 592 155 596 151 596 143 597 142 597 139 599 136 599 128 598 127 598 118 596 114 596 111z"/>
<path fill="#93a7b1" fill-rule="evenodd" d="M595 112 593 111 584 111 579 113 572 118 568 124 563 129 561 136 555 142 554 142 549 150 549 152 547 155 547 157 545 161 545 165 544 166 544 171 545 172 546 177 550 182 558 182 559 181 561 181 563 179 565 179 571 176 576 171 582 167 583 164 589 159 595 150 596 139 598 136 597 119 595 115z"/>
<path fill="#90a3ae" fill-rule="evenodd" d="M593 116 591 115 583 115 574 120 564 130 562 136 555 144 549 159 548 169 549 170 550 175 552 178 556 181 571 175 576 170 580 168 582 164 587 159 588 159 594 150 595 140 597 136 597 128 596 127 596 119z"/>
<path fill="#8da0ac" fill-rule="evenodd" d="M591 120 589 119 583 119 575 123 565 133 560 142 558 144 555 150 555 152 553 156 553 160 552 161 552 168 553 169 553 171 558 177 562 178 571 174 581 165 581 164 590 155 591 152 593 150 594 141 596 136 596 127 594 123z"/>
<path fill="#8b9caa" fill-rule="evenodd" d="M590 125 585 123 578 125 575 127 564 139 559 148 559 150 557 153 557 156 556 157 556 167 561 173 563 173 564 174 568 174 576 168 579 167 580 164 586 158 587 158 592 149 592 147 593 146 593 141 594 140 594 133z"/>
<path fill="#889aa8" fill-rule="evenodd" d="M587 129 582 128 577 130 569 137 565 143 560 154 560 164 564 169 571 169 578 165 585 157 590 146 590 133z"/>
<path fill="#8798a7" fill-rule="evenodd" d="M583 134 579 134 575 136 571 140 567 146 564 154 564 159 566 163 568 164 574 163 577 161 583 154 586 148 586 137z"/></g></g>
<rect x="374.4" y="20.5" width="258.8" height="258.9" fill="none" stroke="#6f6f6f" stroke-width="1.1"/>
<text x="504.3" y="12.7" text-anchor="middle" font-size="14.05" font-weight="bold">Challenged individual</text>
<text x="504.4" y="294.1" text-anchor="middle" font-size="13.9" font-weight="bold">PC1 (48.7%)</text>
<text transform="translate(369.5,148.8) rotate(-90)" text-anchor="middle" font-size="14" font-weight="bold">PC2 (11.1%)</text>
<rect x="639.5" y="20.5" width="11.7" height="258.9" fill="url(#cmap)" stroke="#000" stroke-opacity="0.52" stroke-width="1.1"/>
<line x1="648.8" x2="650.8" y1="279.4" y2="279.4" stroke="#333" stroke-width="0.8"/>
<text x="655.4000000000001" y="283.9" font-size="12" font-weight="bold">0</text>
<line x1="648.8" x2="650.8" y1="236.2" y2="236.2" stroke="#333" stroke-width="0.8"/>
<text x="655.4000000000001" y="240.7" font-size="12" font-weight="bold">0.5</text>
<line x1="648.8" x2="650.8" y1="193.1" y2="193.1" stroke="#333" stroke-width="0.8"/>
<text x="655.4000000000001" y="197.6" font-size="12" font-weight="bold">1</text>
<line x1="648.8" x2="650.8" y1="149.9" y2="149.9" stroke="#333" stroke-width="0.8"/>
<text x="655.4000000000001" y="154.4" font-size="12" font-weight="bold">1.5</text>
<line x1="648.8" x2="650.8" y1="106.8" y2="106.8" stroke="#333" stroke-width="0.8"/>
<text x="655.4000000000001" y="111.3" font-size="12" font-weight="bold">2</text>
<line x1="648.8" x2="650.8" y1="63.6" y2="63.6" stroke="#333" stroke-width="0.8"/>
<text x="655.4000000000001" y="68.1" font-size="12" font-weight="bold">2.5</text>
<line x1="648.8" x2="650.8" y1="20.5" y2="20.5" stroke="#333" stroke-width="0.8"/>
<text x="655.4000000000001" y="25.0" font-size="12" font-weight="bold">3</text>
<text x="619.5" y="19.0" font-size="12.3">×</text>
<text x="628.7" y="17.6" font-size="12.6" letter-spacing="-0.7">10</text>
<text x="643.2" y="11.8" font-size="9.6" font-weight="bold">-4</text>
<g transform="translate(356.6,0)"><line x1="190.9" y1="148.0" x2="126.18" y2="132.75" stroke="#000" stroke-width="1.8"/><path d="M122.28,131.84 L126.45,131.59 L125.90,133.92Z" fill="#000" stroke="#000" stroke-width="1.3" stroke-linejoin="round"/><line x1="190.9" y1="148.0" x2="137.90" y2="150.12" stroke="#000" stroke-width="1.8"/><path d="M133.90,150.28 L137.85,148.92 L137.94,151.32Z" fill="#000" stroke="#000" stroke-width="1.3" stroke-linejoin="round"/><line x1="190.9" y1="148.0" x2="189.28" y2="174.41" stroke="#000" stroke-width="1.8"/><path d="M189.04,178.40 L188.08,174.34 L190.48,174.48Z" fill="#000" stroke="#000" stroke-width="1.3" stroke-linejoin="round"/><line x1="190.9" y1="148.0" x2="139.25" y2="199.74" stroke="#000" stroke-width="1.8"/><path d="M136.42,202.58 L138.40,198.90 L140.10,200.59Z" fill="#000" stroke="#000" stroke-width="1.3" stroke-linejoin="round"/><line x1="190.9" y1="148.0" x2="165.15" y2="206.79" stroke="#000" stroke-width="1.8"/><path d="M163.54,210.45 L164.05,206.31 L166.25,207.27Z" fill="#000" stroke="#000" stroke-width="1.3" stroke-linejoin="round"/><line x1="190.9" y1="148.0" x2="228.93" y2="211.36" stroke="#000" stroke-width="1.8"/><path d="M230.99,214.79 L227.90,211.97 L229.96,210.74Z" fill="#000" stroke="#000" stroke-width="1.3" stroke-linejoin="round"/><line x1="190.9" y1="148.0" x2="203.11" y2="261.63" stroke="#000" stroke-width="1.8"/><path d="M203.54,265.60 L201.92,261.75 L204.30,261.50Z" fill="#000" stroke="#000" stroke-width="1.3" stroke-linejoin="round"/><text x="76.1" y="135.6" font-size="14.4" font-weight="bold">CD11b</text><text x="86.6" y="156.4" font-size="14.4" font-weight="bold">CD11c</text><text x="172.1" y="190.6" font-size="14.4" font-weight="bold">CD64</text><text x="113.5" y="216.2" font-size="14.4" font-weight="bold">CD16</text><text x="145.29999999999998" y="222.79999999999998" font-size="14.4" font-weight="bold">CD69</text><text x="222.4" y="227.6" font-size="14.4" font-weight="bold">CD62L</text><text x="191.2" y="277.40000000000003" font-size="14.4" font-weight="bold">CD32</text></g>
</svg>
</body></html>
